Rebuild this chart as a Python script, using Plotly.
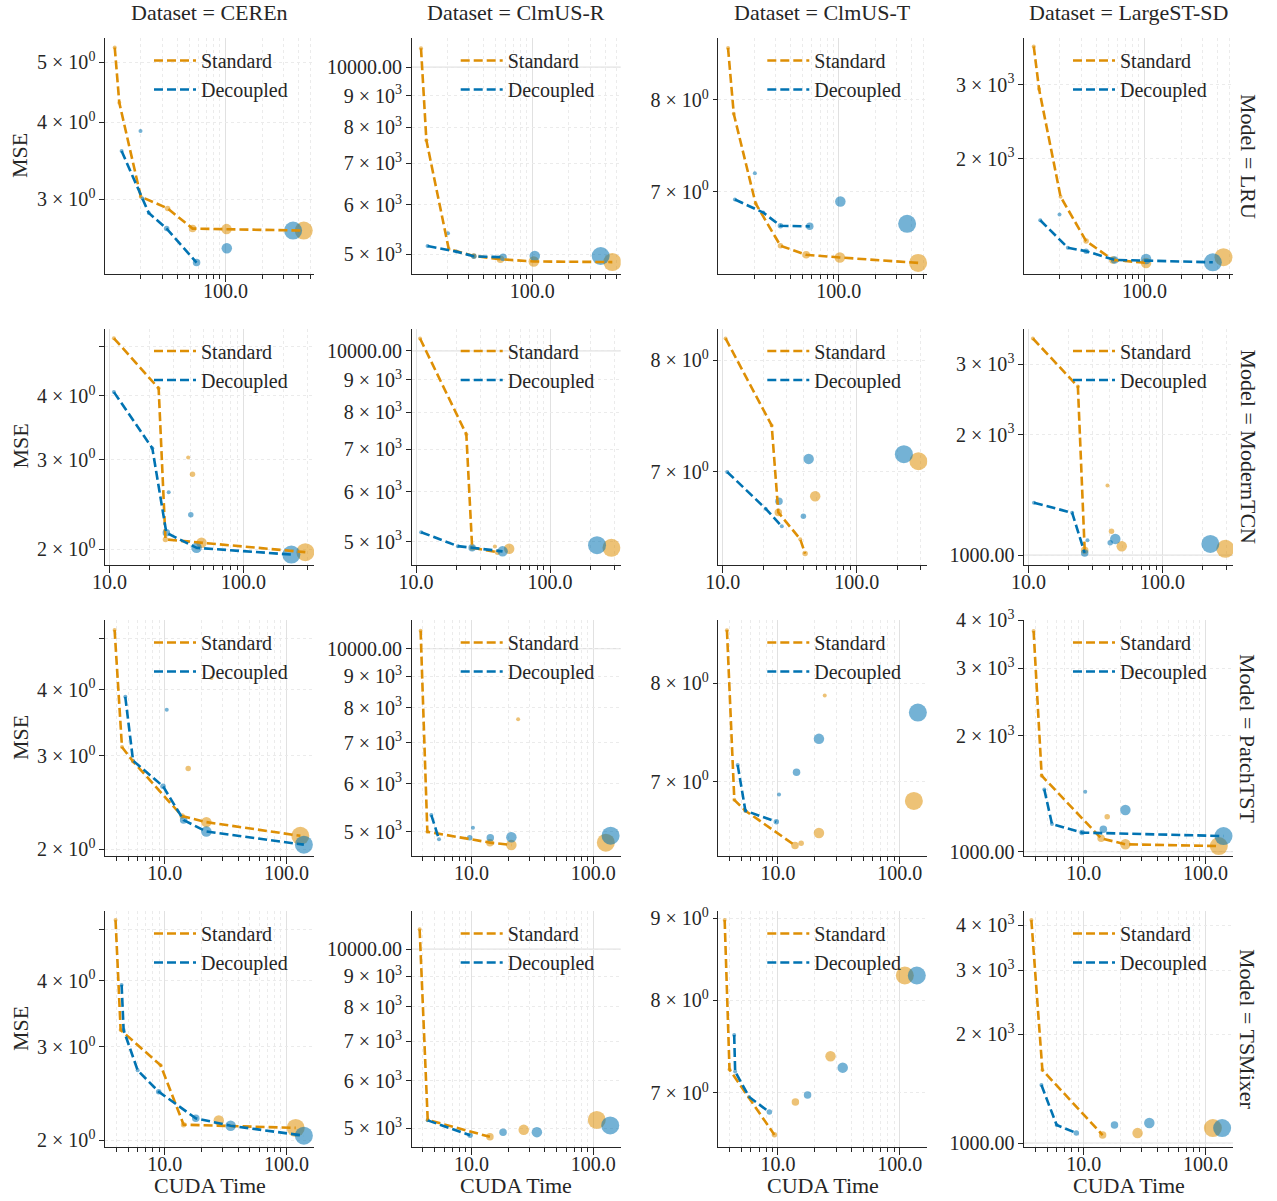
import math
import plotly.graph_objects as go

# ---------------- data (CUDA time, MSE, capacity level -> marker size) ----------------
# Model = LRU
lru_cer_std_t = [12.2, 13.3, 20.0, 33.3, 53.5, 102, 442]
lru_cer_std_mse = [5.28, 4.30, 3.03, 2.90, 2.69, 2.685, 2.67]
lru_cer_std_cap = [1, 1, 1, 2, 3, 4, 5]
lru_cer_dec_t = [13.9, 19.9, 20.7, 23.3, 32.7, 57.7, 102.5, 361]
lru_cer_dec_mse = [3.59, 3.87, 3.01, 2.85, 2.69, 2.37, 2.50, 2.67]
lru_cer_dec_cap = [1, 1, 1, 1, 2, 3, 4, 5]

lru_clr_std_t = [12.1, 13.4, 20.5, 33, 54.7, 103, 458]
lru_clr_std_mse = [10728, 7626, 5094, 4966, 4907, 4866, 4855]
lru_clr_std_cap = [1, 1, 1, 2, 3, 4, 5]
lru_clr_dec_t = [13.7, 20.2, 23.7, 33, 57.5, 105, 367]
lru_clr_dec_mse = [5152, 5405, 5047, 4960, 4944, 4966, 4966]
lru_clr_dec_cap = [1, 1, 1, 2, 3, 4, 5]

lru_clt_std_t = [12.2, 13.6, 20.6, 33, 53.8, 102, 451]
lru_clt_std_mse = [8.63, 7.84, 6.88, 6.47, 6.385, 6.36, 6.31]
lru_clt_std_cap = [1, 1, 1, 2, 3, 4, 5]
lru_clt_dec_t = [13.9, 20.3, 23.8, 33, 57.6, 103, 366]
lru_clt_dec_mse = [6.92, 7.19, 6.79, 6.66, 6.655, 6.90, 6.68]
lru_clt_dec_cap = [1, 1, 1, 2, 3, 4, 5]

lru_lst_std_t = [12.2, 13.5, 20.3, 33, 54.8, 103, 448]
lru_lst_std_mse = [3702, 2929, 1624, 1273, 1148, 1129, 1165]
lru_lst_std_cap = [1, 1, 1, 2, 3, 4, 5]
lru_lst_dec_t = [13.8, 19.9, 23.3, 33, 56.6, 103, 366]
lru_lst_dec_mse = [1427, 1472, 1227, 1204, 1148, 1154, 1133]
lru_lst_dec_cap = [1, 1, 1, 2, 3, 4, 5]

# Model = ModernTCN
mtcn_cer_std_t = [10.8, 23.3, 26.2, 38.7, 41.7, 48.7, 290]
mtcn_cer_std_mse = [5.19, 4.14, 2.093, 3.03, 2.81, 2.061, 1.976]
mtcn_cer_std_cap = [1, 1, 2, 1, 2, 4, 5]
mtcn_cer_dec_t = [10.8, 20.9, 26.6, 27.7, 40.5, 44.7, 228]
mtcn_cer_dec_mse = [4.07, 3.16, 2.157, 2.59, 2.34, 2.015, 1.955]
mtcn_cer_dec_cap = [1, 1, 3, 1, 2, 4, 5]

mtcn_clr_std_t = [10.7, 23.7, 26.2, 38.7, 40.5, 49.5, 287]
mtcn_clr_std_mse = [10459, 7389, 4893, 4917, 4815, 4875, 4893]
mtcn_clr_std_cap = [1, 1, 2, 1, 2, 4, 5]
mtcn_clr_dec_t = [10.9, 20.5, 26.2, 44.2, 224]
mtcn_clr_dec_mse = [5178, 4922, 4893, 4830, 4940]
mtcn_clr_dec_cap = [1, 1, 3, 4, 5]

mtcn_clt_std_t = [10.5, 23.2, 26.0, 37.9, 41.2, 49.0, 289]
mtcn_clt_std_mse = [8.21, 7.40, 6.67, 6.46, 6.35, 6.80, 7.09]
mtcn_clt_std_cap = [1, 1, 3, 1, 2, 4, 5]
mtcn_clt_dec_t = [10.8, 20.9, 26.3, 27.6, 40, 43.8, 225]
mtcn_clt_dec_mse = [7.00, 6.70, 6.76, 6.56, 6.64, 7.11, 7.15]
mtcn_clt_dec_cap = [1, 1, 3, 1, 2, 4, 5]

mtcn_lst_std_t = [10.8, 23.4, 26.3, 38.9, 41.7, 49.7, 295]
mtcn_lst_std_mse = [3474, 2636, 1029, 1493, 1148, 1053, 1037]
mtcn_lst_std_cap = [1, 1, 3, 1, 2, 4, 5]
mtcn_lst_dec_t = [11.0, 21.2, 26.3, 27.6, 40.8, 44.5, 228]
mtcn_lst_dec_mse = [1351, 1276, 1013, 1090, 1074, 1098, 1067]
mtcn_lst_dec_cap = [1, 1, 3, 1, 2, 4, 5]

# Model = PatchTST
ptst_cer_std_t = [3.88, 4.46, 5.5, 13.9, 15.6, 22.0, 24.2, 130]
ptst_cer_std_mse = [5.19, 3.12, 2.93, 2.31, 2.84, 2.25, 4.21, 2.12]
ptst_cer_std_cap = [1, 1, 1, 2, 2, 4, 1, 5]
ptst_cer_dec_t = [4.75, 5.5, 9.69, 10.4, 14.3, 22, 139]
ptst_cer_dec_mse = [3.88, 2.94, 2.63, 3.67, 2.27, 2.16, 2.04]
ptst_cer_dec_cap = [1, 1, 2, 1, 3, 4, 5]

ptst_clr_std_t = [3.83, 4.35, 14.2, 21.3, 24.2, 127]
ptst_clr_std_mse = [10705, 5000, 4797, 4755, 7655, 4797]
ptst_clr_std_cap = [1, 1, 3, 4, 1, 5]
ptst_clr_dec_t = [4.69, 5.42, 9.69, 10.3, 14.3, 21.3, 139]
ptst_clr_dec_mse = [5325, 4858, 4888, 5077, 4888, 4895, 4925]
ptst_clr_dec_cap = [1, 1, 2, 1, 3, 4, 5]

ptst_clt_std_t = [3.81, 4.38, 5.40, 13.8, 15.5, 21.7, 24.2, 130.5]
ptst_clt_std_mse = [8.60, 6.83, 6.73, 6.42, 6.44, 6.53, 7.87, 6.82]
ptst_clt_std_cap = [1, 1, 1, 3, 2, 4, 1, 5]
ptst_clt_dec_t = [4.67, 5.40, 9.69, 10.2, 14.2, 21.7, 140.8]
ptst_clt_dec_mse = [7.16, 6.73, 6.63, 6.88, 7.09, 7.42, 7.69]
ptst_clt_dec_cap = [1, 1, 2, 1, 3, 4, 5]

ptst_lst_std_t = [3.88, 4.52, 13.9, 15.6, 22.0, 24.5, 128.7]
ptst_lst_std_mse = [3750, 1576, 1083, 1233, 1045, 2935, 1034]
ptst_lst_std_cap = [1, 1, 3, 2, 4, 1, 5]
ptst_lst_dec_t = [4.75, 5.49, 9.69, 10.3, 14.5, 22, 140.6]
ptst_lst_dec_mse = [1452, 1180, 1121, 1432, 1143, 1283, 1098]
ptst_lst_dec_cap = [1, 1, 2, 1, 3, 4, 5]

# Model = TSMixer
tsm_cer_std_t = [3.95, 4.35, 9.27, 14.3, 27.8, 119]
tsm_cer_std_mse = [5.21, 3.23, 2.77, 2.14, 2.18, 2.11]
tsm_cer_std_cap = [1, 1, 1, 2, 4, 5]
tsm_cer_dec_t = [4.43, 4.6, 6.0, 8.93, 18.0, 34.8, 139]
tsm_cer_dec_mse = [3.93, 3.23, 2.71, 2.47, 2.20, 2.13, 2.04]
tsm_cer_dec_cap = [1, 1, 1, 2, 3, 4, 5]

tsm_clr_std_t = [3.76, 4.38, 14.2, 26.9, 107]
tsm_clr_std_mse = [10800, 5159, 4831, 4964, 5159]
tsm_clr_std_cap = [1, 1, 3, 4, 5]
tsm_clr_dec_t = [4.38, 9.76, 18.2, 34.5, 138]
tsm_clr_dec_mse = [5150, 4860, 4920, 4920, 5050]
tsm_clr_dec_cap = [1, 2, 3, 4, 5]

tsm_clt_std_t = [3.65, 4.0, 9.35, 13.9, 27, 110]
tsm_clt_std_mse = [8.98, 7.24, 6.59, 6.91, 7.38, 8.29]
tsm_clt_std_cap = [1, 1, 2, 3, 4, 5]
tsm_clt_dec_t = [4.37, 4.45, 5.8, 8.5, 17.5, 34, 138]
tsm_clt_dec_mse = [7.61, 7.22, 6.96, 6.81, 6.98, 7.26, 8.29]
tsm_clt_dec_cap = [1, 1, 1, 2, 3, 4, 5]

tsm_lst_std_t = [3.72, 4.58, 14.3, 27.7, 115]
tsm_lst_std_mse = [4130, 1591, 1052, 1065, 1100]
tsm_lst_std_cap = [1, 1, 3, 4, 5]
tsm_lst_dec_t = [4.5, 6.0, 8.7, 17.9, 34.6, 137]
tsm_lst_dec_mse = [1446, 1121, 1066, 1121, 1136, 1100]
tsm_lst_dec_cap = [1, 1, 2, 3, 4, 5]

# facets and labels
models = ["lru", "mtcn", "ptst", "tsm"]
model_names = ["LRU", "ModernTCN", "PatchTST", "TSMixer"]
datasets = ["cer", "clr", "clt", "lst"]
dataset_names = ["CEREn", "ClmUS-R", "ClmUS-T", "LargeST-SD"]
variants = ["std", "dec"]
variant_names = ["Standard", "Decoupled"]

# tick values (labelled)
x_ticks_by_row = [[100], [10, 100], [10, 100], [10, 100]]
y_ticks_cer = [[3, 4, 5], [2, 3, 4], [2, 3, 4], [2, 3, 4]]
y_ticks_clr = [[5000, 6000, 7000, 8000, 9000, 10000]] * 4
y_ticks_clt = [[7, 8], [7, 8], [7, 8], [7, 8, 9]]
y_ticks_lst = [[2000, 3000], [1000, 2000, 3000], [1000, 2000, 3000, 4000], [1000, 2000, 3000, 4000]]
y_ticks = [y_ticks_cer, y_ticks_clr, y_ticks_clt, y_ticks_lst]

# ---------------- layout / style ----------------
W, H = 1277, 1201
FONT = "Liberation Serif"
TXT = "#262626"
COLORS = {"std": "#DE8F05", "dec": "#0173B2"}
GRID_MAJ = "#e1e1e1"
GRID_MIN = "#ebebeb"
CAP_PX = {1: 4, 2: 5.5, 3: 7.5, 4: 10.5, 5: 18}

col_left = [105, 411.7, 718.3, 1024]
col_w = 209
row_top = [38, 328.5, 620, 911]
row_h = 236

x_range_by_row = [[1.006, 2.73], [0.967, 2.527], [0.51, 2.226], [0.51, 2.226]]
y_range = {
    (0, 0): [0.3563, 0.738], (0, 1): [3.667, 4.047], (0, 2): [0.7930, 0.9423], (0, 3): [3.0263, 3.5884],
    (1, 0): [0.2716, 0.7343], (1, 1): [3.6632, 4.0353], (1, 2): [0.7971, 0.9195], (1, 3): [2.9767, 3.5658],
    (2, 0): [0.2882, 0.7340], (2, 1): [3.659, 4.0471], (2, 2): [0.8013, 0.9405], (2, 3): [2.9887, 3.6025],
    (3, 0): [0.2882, 0.7340], (3, 1): [3.667, 4.064], (3, 2): [0.8113, 0.9589], (3, 3): [2.989, 3.641],
}


def fmt_y(v):
    k = int(math.floor(math.log10(v) + 1e-9))
    d = v / 10 ** k
    if abs(d - 1) < 1e-9:
        return f"{v:.2f}"
    return f"{int(round(d))} × 10<sup>{k}</sup>"


def log_minor(lo, hi, exclude):
    vals = []
    for k in range(int(math.floor(lo)) - 1, int(math.ceil(hi)) + 1):
        for d in range(1, 10):
            v = d * 10 ** k
            lv = math.log10(v)
            if lo <= lv <= hi and all(abs(v - e) > 1e-9 * v for e in exclude):
                vals.append(v)
    return vals


def pareto(t, y):
    best = float("inf")
    ft, fy = [], []
    for a, b in sorted(zip(t, y)):
        if b < best:
            ft.append(a)
            fy.append(b)
            best = b
    return ft, fy


fig = go.Figure()
shapes = []
annotations = []
layout = {}

for r, m in enumerate(models):
    for c, d in enumerate(datasets):
        i = r * 4 + c + 1
        sfx = "" if i == 1 else str(i)
        xa, ya = "x" + sfx, "y" + sfx
        leg = "legend" + sfx
        # scatter points
        for v in variants:
            t = globals()[f"{m}_{d}_{v}_t"]
            y = globals()[f"{m}_{d}_{v}_mse"]
            cap = globals()[f"{m}_{d}_{v}_cap"]
            fig.add_trace(go.Scatter(
                x=t, y=y, mode="markers", xaxis=xa, yaxis=ya, showlegend=False,
                marker=dict(color=COLORS[v], opacity=0.55, size=[CAP_PX[k] for k in cap],
                            line=dict(width=0)),
            ))
        # Pareto fronts
        for v, vn in zip(variants, variant_names):
            t = globals()[f"{m}_{d}_{v}_t"]
            y = globals()[f"{m}_{d}_{v}_mse"]
            ft, fy = pareto(t, y)
            fig.add_trace(go.Scatter(
                x=ft, y=fy, mode="lines", xaxis=xa, yaxis=ya, name=vn, legend=leg,
                showlegend=True, line=dict(color=COLORS[v], width=2.6, dash="9px,4px"),
            ))

        x0 = col_left[c] / W
        x1 = (col_left[c] + col_w) / W
        y1 = 1 - row_top[r] / H
        y0 = 1 - (row_top[r] + row_h) / H
        xr = x_range_by_row[r]
        yr = y_range[(r, c)]
        xt = x_ticks_by_row[r]
        yt = y_ticks[c][r]

        layout["xaxis" + sfx] = dict(
            type="log", domain=[x0, x1], range=xr, anchor=ya, automargin=False,
            showline=True, linecolor=TXT, linewidth=1.25, mirror=False, zeroline=False,
            ticks="outside", ticklen=7, tickwidth=1.25, tickcolor=TXT, ticklabelstandoff=-8,
            tickmode="array", tickvals=xt, ticktext=[f"{v:.1f}" for v in xt],
            tickfont=dict(family=FONT, size=20, color=TXT),
            showgrid=True, gridcolor=GRID_MAJ, gridwidth=1.2,
            minor=dict(tickmode="array", tickvals=log_minor(xr[0], xr[1], xt), ticks="outside",
                       ticklen=4, tickwidth=1, tickcolor=TXT, showgrid=True,
                       gridcolor=GRID_MIN, griddash="dot", gridwidth=1),
        )
        layout["yaxis" + sfx] = dict(
            type="log", domain=[y0, y1], range=yr, anchor=xa, automargin=False,
            showline=True, linecolor=TXT, linewidth=1.25, mirror=False, zeroline=False,
            ticks="outside", ticklen=4.5, tickwidth=1, tickcolor=TXT,
            tickmode="array", tickvals=yt, ticktext=[fmt_y(v) for v in yt],
            tickfont=dict(family=FONT, size=20, color=TXT),
            showgrid=True, gridcolor=GRID_MIN, griddash="dot", gridwidth=1,
            minor=dict(tickmode="array", tickvals=log_minor(yr[0], yr[1], yt), ticks="outside",
                       ticklen=4.5, tickwidth=1, tickcolor=TXT, showgrid=True,
                       gridcolor=GRID_MIN, griddash="dot", gridwidth=1),
        )
        # decade grid lines (major grid)
        for v in yt:
            if abs(math.log10(v) - round(math.log10(v))) < 1e-9:
                shapes.append(dict(type="line", xref=xa + " domain", x0=0, x1=1, yref=ya,
                                   y0=v, y1=v, layer="below",
                                   line=dict(color=GRID_MAJ, width=1.2)))
        layout[leg] = dict(
            x=(col_left[c] + 44) / W, y=1 - (row_top[r] + 3) / H, xanchor="left", yanchor="top",
            bgcolor="rgba(0,0,0,0)", borderwidth=0, tracegroupgap=0, itemwidth=42,
            font=dict(family=FONT, size=20, color=TXT),
        )

# facet titles
for c, dn in enumerate(dataset_names):
    annotations.append(dict(text=f"Dataset = {dn}", x=(col_left[c] + col_w / 2) / W, y=1 - 13 / H,
                            xref="paper", yref="paper", showarrow=False, xanchor="center",
                            yanchor="middle", font=dict(family=FONT, size=22, color=TXT)))
    annotations.append(dict(text="CUDA Time", x=(col_left[c] + col_w / 2) / W, y=1 - 1185 / H,
                            xref="paper", yref="paper", showarrow=False, xanchor="center",
                            yanchor="middle", font=dict(family=FONT, size=22, color=TXT)))
for r, mn in enumerate(model_names):
    yc = 1 - (row_top[r] + row_h / 2) / H
    annotations.append(dict(text=f"Model = {mn}", x=1248 / W, y=yc, xref="paper", yref="paper",
                            showarrow=False, textangle=90, xanchor="center", yanchor="middle",
                            font=dict(family=FONT, size=22, color=TXT)))
    annotations.append(dict(text="MSE", x=20 / W, y=yc, xref="paper", yref="paper",
                            showarrow=False, textangle=-90, xanchor="center", yanchor="middle",
                            font=dict(family=FONT, size=22, color=TXT)))

fig.update_layout(
    width=W, height=H, margin=dict(l=0, r=0, t=0, b=0, pad=0, autoexpand=False), autosize=False,
    plot_bgcolor="white", paper_bgcolor="white",
    font=dict(family=FONT, size=20, color=TXT),
    shapes=shapes, annotations=annotations, **layout,
)

fig.write_html("out.html", config={"displayModeBar": False})

# remove the default page margin so the figure sits at the window origin
with open("out.html", encoding="utf-8") as fh:
    html = fh.read()
html = html.replace("<head>", "<head><style>html,body{margin:0;padding:0;overflow:hidden;}</style>", 1)
with open("out.html", "w", encoding="utf-8") as fh:
    fh.write(html)
